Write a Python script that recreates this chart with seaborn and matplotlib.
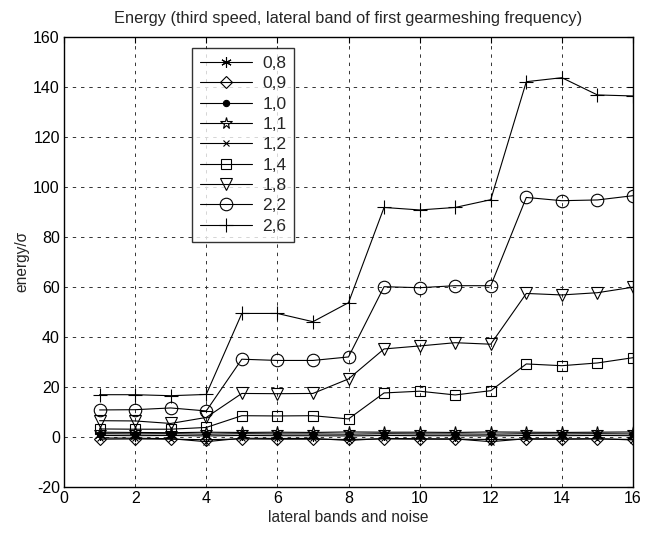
import matplotlib
matplotlib.use("Agg")
import matplotlib.pyplot as plt
import seaborn as sns
import numpy as np
import pandas as pd

sns.set_theme(style="white")
plt.rcParams['font.family'] = ['Liberation Sans', 'DejaVu Sans']
plt.rcParams['axes.unicode_minus'] = False

bands = list(range(1, 17))
series_labels = ["0,8", "0,9", "1,0", "1,1", "1,2", "1,4", "1,8", "2,2", "2,6"]

s08 = [0.5, 0.4, 0.5, 0.3, 0.5, 0.4, 0.4, 0.3, 0.5, 0.4, 0.4, 0.3, 0.5, 0.4, 0.5, 0.4]
s09 = [-1.0, -0.9, -1.0, -1.2, -0.9, -1.0, -1.0, -1.1, -0.9, -1.0, -1.0, -1.1, -1.0, -1.0, -0.9, -1.1]
s10 = [1.2, 1.1, 1.2, 1.0, 1.2, 1.1, 1.1, 1.0, 1.2, 1.1, 1.1, 1.0, 1.2, 1.1, 1.2, 1.1]
s11 = [1.8, 1.7, 1.6, 1.8, 1.7, 1.8, 1.7, 1.9, 1.8, 1.8, 1.7, 1.9, 1.8, 1.7, 1.8, 1.9]
s12 = [-0.5, -0.6, -0.8, -2.0, -0.6, -0.7, -0.7, -1.5, -0.7, -0.8, -0.9, -2.0, -0.8, -0.9, -0.8, -1.3]
s14 = [3.1, 3.0, 3.0, 3.7, 8.4, 8.3, 8.4, 7.1, 17.5, 18.2, 16.7, 18.4, 29.1, 28.4, 29.5, 31.6]
s18 = [6.4, 6.3, 5.3, 7.7, 17.3, 17.2, 17.3, 23.1, 35.1, 36.3, 37.6, 37.0, 57.3, 56.7, 57.6, 59.8]
s22 = [10.7, 10.8, 11.5, 10.3, 31.0, 30.5, 30.5, 31.9, 60.0, 59.6, 60.4, 60.4, 95.7, 94.4, 94.7, 96.4]
s26 = [16.8, 16.8, 16.4, 16.9, 49.3, 49.3, 46.0, 53.6, 91.7, 90.7, 91.7, 94.8, 142.0, 143.6, 136.7, 136.3]

all_series = [s08, s09, s10, s11, s12, s14, s18, s22, s26]

xticks = list(range(0, 17, 2))
yticks = list(range(-20, 161, 20))

title = "Energy (third speed, lateral band of first gearmeshing frequency)"
xlabel = "lateral bands and noise"
ylabel = "energy/\u03c3"

styles = [
    dict(marker=(6, 2, 0), ms=7.5, mfc='none'),
    dict(marker='D', ms=6, mfc='none'),
    dict(marker='o', ms=4.5, mfc='black'),
    dict(marker='*', ms=8.5, mfc='none'),
    dict(marker='x', ms=4.5, mfc='none'),
    dict(marker='s', ms=7, mfc='none'),
    dict(marker='v', ms=8, mfc='none'),
    dict(marker='o', ms=9, mfc='none'),
    dict(marker='+', ms=9.5, mfc='none'),
]

fig = plt.figure(figsize=(6.56, 5.33), dpi=100)
ax = fig.add_axes([64/656, 1-486.7/533, (633-64)/656, (486.7-36.7)/533])

for lab, vals, st in zip(series_labels, all_series, styles):
    df = pd.DataFrame({"band": bands, "energy": vals})
    sns.lineplot(data=df, x="band", y="energy", ax=ax, color="black",
                 linewidth=0.8, marker=st['marker'], markersize=st['ms'],
                 markerfacecolor=st['mfc'], markeredgecolor='black',
                 markeredgewidth=0.8, label=lab)

ax.set_xlim(0, 16)
ax.set_ylim(-20, 160)
ax.set_xticks(xticks)
ax.set_yticks(yticks)
ax.grid(True, color='#333333', linestyle=(0, (3.5, 5)), linewidth=0.7)
ax.tick_params(direction='in', top=True, right=True, length=4, width=0.8,
               labelsize=11.5, colors='black', pad=3)
for sp in ax.spines.values():
    sp.set_color('black')
    sp.set_linewidth(1.0)

ax.set_title(title, fontsize=11.8, pad=10)
ax.set_xlabel(xlabel, fontsize=11.2, labelpad=3)
ax.set_ylabel(ylabel, fontsize=11.2, labelpad=3)

leg = ax.legend(loc='upper left', bbox_to_anchor=(0.225, 0.975), frameon=True,
                fancybox=False, edgecolor='black', fontsize=12.5,
                handlelength=3.0, labelspacing=0.3, borderpad=0.45,
                handletextpad=0.6, borderaxespad=0)
leg.get_frame().set_linewidth(1.0)

fig.savefig("out.png", dpi=100)
